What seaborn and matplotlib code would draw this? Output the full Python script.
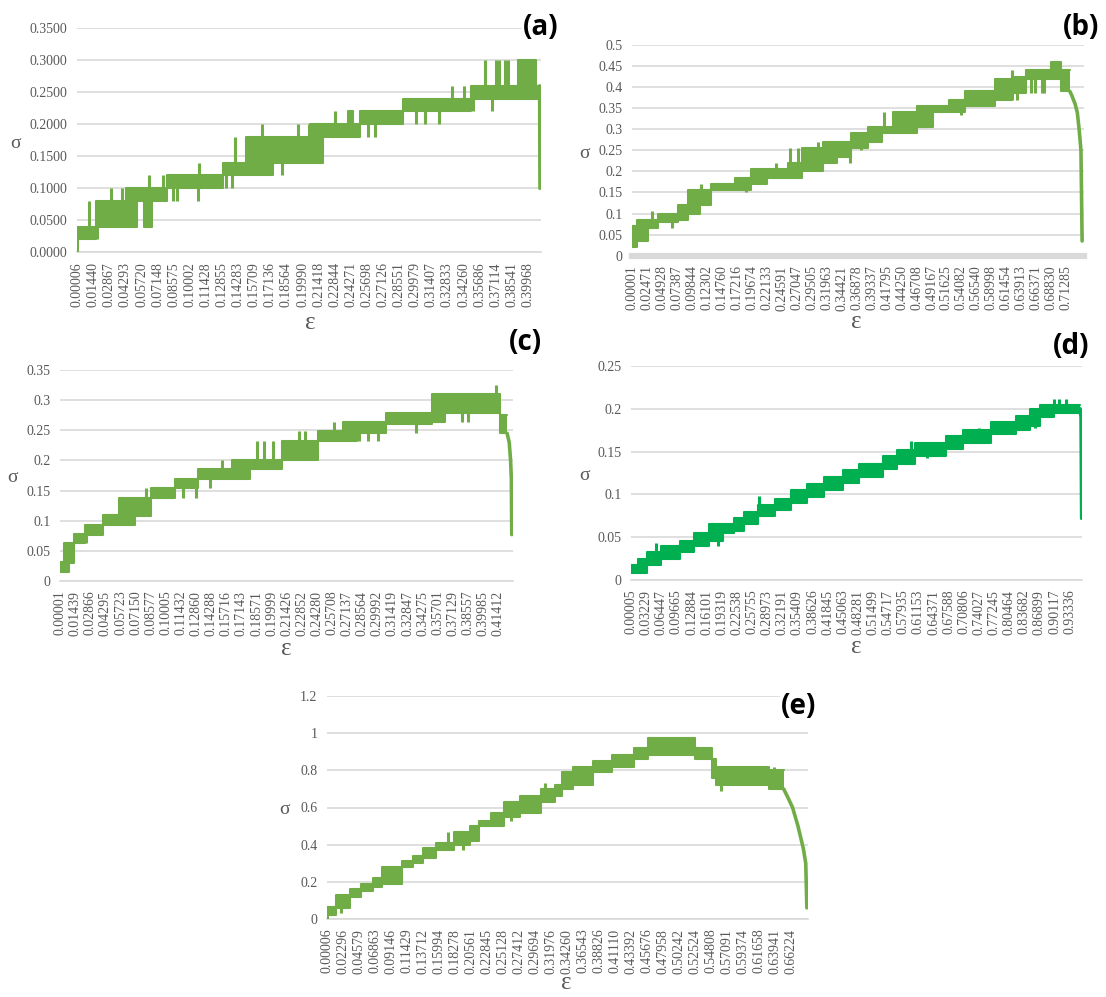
import matplotlib
matplotlib.use("Agg")
import matplotlib.pyplot as plt
import seaborn as sns

# ---------------- data ----------------
# Panel (a)
a_xtick_labels = ["0.00006", "0.01440", "0.02867", "0.04293", "0.05720", "0.07148", "0.08575",
                  "0.10002", "0.11428", "0.12855", "0.14283", "0.15709", "0.17136", "0.18564",
                  "0.19990", "0.21418", "0.22844", "0.24271", "0.25698", "0.27126", "0.28551",
                  "0.29979", "0.31407", "0.32833", "0.34260", "0.35686", "0.37114", "0.38541",
                  "0.39968"]
a_yticks = [0.0, 0.05, 0.10, 0.15, 0.20, 0.25, 0.30, 0.35]
a_ytick_labels = ["0.0000", "0.0500", "0.1000", "0.1500", "0.2000", "0.2500", "0.3000", "0.3500"]
a_eps = [0.0000, 0.0086, 0.0165, 0.0435, 0.0530, 0.0593, 0.0666, 0.0800, 0.1291, 0.1497, 0.1735,
         0.2067, 0.2178, 0.2400, 0.2448, 0.2511, 0.2892, 0.3304, 0.3494, 0.3906, 0.4065, 0.4103]
a_lo = [0.02, 0.02, 0.04, 0.04, 0.08, 0.04, 0.08, 0.10, 0.12, 0.12, 0.14, 0.14, 0.18, 0.18, 0.18,
        0.20, 0.22, 0.22, 0.24, 0.24, 0.24]
a_hi = [0.04, 0.04, 0.08, 0.10, 0.10, 0.10, 0.10, 0.12, 0.14, 0.18, 0.18, 0.20, 0.20, 0.22, 0.20,
        0.22, 0.24, 0.24, 0.26, 0.30, 0.26]
a_sp_eps = [0.0002, 0.0102, 0.0181, 0.0302, 0.0403, 0.0635, 0.0762, 0.0850, 0.0890, 0.1075, 0.1085,
            0.1322, 0.1370, 0.1402, 0.1640, 0.1820, 0.1956, 0.2052, 0.2289, 0.2575, 0.2638, 0.3003,
            0.3082, 0.3209, 0.3320, 0.3431, 0.3510, 0.3615, 0.3678, 0.3716, 0.3740, 0.3795, 0.3820,
            0.4100]
a_sp_lo = [0.00, 0.02, 0.02, 0.04, 0.04, 0.04, 0.08, 0.08, 0.08, 0.08, 0.10, 0.10, 0.10, 0.12, 0.12,
           0.12, 0.14, 0.14, 0.18, 0.18, 0.18, 0.20, 0.20, 0.20, 0.22, 0.22, 0.22, 0.24, 0.22, 0.24,
           0.24, 0.24, 0.24, 0.10]
a_sp_hi = [0.04, 0.08, 0.04, 0.10, 0.10, 0.12, 0.12, 0.12, 0.12, 0.12, 0.14, 0.14, 0.14, 0.18, 0.20,
           0.18, 0.20, 0.20, 0.22, 0.22, 0.22, 0.24, 0.24, 0.24, 0.26, 0.26, 0.26, 0.30, 0.26, 0.30,
           0.30, 0.30, 0.30, 0.26]
a_tail_eps = [0.4100, 0.4103]
a_tail_sig = [0.26, 0.10]

# Panel (b)
b_xtick_labels = ["0.00001", "0.02471", "0.04928", "0.07387", "0.09844", "0.12302", "0.14760",
                  "0.17216", "0.19674", "0.22133", "0.24591", "0.27047", "0.29505", "0.31963",
                  "0.34421", "0.36878", "0.39337", "0.41795", "0.44250", "0.46708", "0.49167",
                  "0.51625", "0.54082", "0.56540", "0.58998", "0.61454", "0.63913", "0.66371",
                  "0.68830", "0.71285"]
b_yticks = [0, 0.05, 0.1, 0.15, 0.2, 0.25, 0.3, 0.35, 0.4, 0.45, 0.5]
b_ytick_labels = ["0", "0.05", "0.1", "0.15", "0.2", "0.25", "0.3", "0.35", "0.4", "0.45", "0.5"]
b_eps = [0.0000, 0.0086, 0.0270, 0.0431, 0.0748, 0.0920, 0.1110, 0.1294, 0.1696, 0.1955, 0.2214,
         0.2559, 0.2789, 0.3134, 0.3364, 0.3594, 0.3881, 0.4111, 0.4284, 0.4686, 0.4945, 0.5204,
         0.5463, 0.5951, 0.6239, 0.6469, 0.6871, 0.7044, 0.7188]
b_lo = [0.02, 0.035, 0.065, 0.08, 0.085, 0.10, 0.12, 0.155, 0.155, 0.17, 0.185, 0.185, 0.20, 0.22,
        0.235, 0.255, 0.27, 0.29, 0.29, 0.305, 0.34, 0.34, 0.355, 0.37, 0.385, 0.42, 0.42, 0.39]
b_hi = [0.07, 0.085, 0.085, 0.10, 0.12, 0.155, 0.155, 0.17, 0.185, 0.205, 0.205, 0.22, 0.255, 0.27,
        0.27, 0.29, 0.305, 0.305, 0.34, 0.355, 0.355, 0.37, 0.39, 0.42, 0.425, 0.44, 0.46, 0.44]
b_sp_eps = [0.0328, 0.0661, 0.1133, 0.1869, 0.2358, 0.2599, 0.2720, 0.3048, 0.3577, 0.3766, 0.4140,
            0.5405, 0.5463, 0.6239, 0.6325, 0.6555, 0.6613, 0.6728, 0.6756]
b_sp_lo = [0.065, 0.065, 0.12, 0.15, 0.185, 0.185, 0.185, 0.20, 0.22, 0.25, 0.29, 0.335, 0.355,
           0.37, 0.37, 0.385, 0.385, 0.385, 0.385]
b_sp_hi = [0.105, 0.10, 0.17, 0.185, 0.22, 0.255, 0.255, 0.27, 0.27, 0.29, 0.34, 0.37, 0.39, 0.44,
           0.425, 0.44, 0.44, 0.44, 0.44]
b_tail_eps = [0.7188, 0.7220, 0.7274, 0.7310, 0.7340, 0.7370, 0.7389]
b_tail_sig = [0.39, 0.38, 0.36, 0.34, 0.30, 0.25, 0.035]

# Panel (c)
c_xtick_labels = ["0.00001", "0.01439", "0.02866", "0.04295", "0.05723", "0.07150", "0.08577",
                  "0.10005", "0.11432", "0.12860", "0.14288", "0.15716", "0.17143", "0.18571",
                  "0.19999", "0.21426", "0.22852", "0.24280", "0.25708", "0.27137", "0.28564",
                  "0.29992", "0.31419", "0.32847", "0.34275", "0.35701", "0.37129", "0.38557",
                  "0.39985", "0.41412"]
c_yticks = [0, 0.05, 0.1, 0.15, 0.2, 0.25, 0.3, 0.35]
c_ytick_labels = ["0", "0.05", "0.1", "0.15", "0.2", "0.25", "0.3", "0.35"]
c_eps = [0.0000, 0.0034, 0.0085, 0.0135, 0.0237, 0.0406, 0.0558, 0.0710, 0.0862, 0.1082, 0.1301,
         0.1622, 0.1791, 0.2096, 0.2434, 0.2670, 0.2806, 0.3076, 0.3515, 0.3634, 0.4157, 0.4225]
c_lo = [0.015, 0.015, 0.03, 0.063, 0.077, 0.093, 0.093, 0.108, 0.138, 0.155, 0.17, 0.17, 0.185,
        0.20, 0.232, 0.232, 0.245, 0.26, 0.263, 0.278, 0.245]
c_hi = [0.032, 0.063, 0.063, 0.078, 0.093, 0.11, 0.138, 0.138, 0.155, 0.17, 0.185, 0.20, 0.20,
        0.232, 0.248, 0.263, 0.263, 0.278, 0.31, 0.31, 0.275]
c_sp_eps = [0.0250, 0.0811, 0.1166, 0.1284, 0.1420, 0.1528, 0.1866, 0.1927, 0.2011, 0.2258, 0.2316,
            0.2593, 0.2823, 0.2907, 0.3009, 0.3363, 0.3803, 0.3853, 0.4124]
c_sp_lo = [0.063, 0.108, 0.138, 0.138, 0.155, 0.17, 0.185, 0.185, 0.185, 0.20, 0.20, 0.232, 0.232,
           0.232, 0.232, 0.245, 0.263, 0.263, 0.278]
c_sp_hi = [0.093, 0.155, 0.17, 0.17, 0.185, 0.20, 0.232, 0.232, 0.232, 0.248, 0.248, 0.263, 0.263,
           0.263, 0.263, 0.278, 0.31, 0.31, 0.325]
c_tail_eps = [0.4225, 0.4245, 0.4258, 0.4265, 0.4269]
c_tail_sig = [0.245, 0.23, 0.20, 0.17, 0.077]

# Panel (d)
d_xtick_labels = ["0.00005", "0.03229", "0.06447", "0.09665", "0.12884", "0.16101", "0.19319",
                  "0.22538", "0.25755", "0.28973", "0.32191", "0.35409", "0.38626", "0.41845",
                  "0.45063", "0.48281", "0.51499", "0.54717", "0.57935", "0.61153", "0.64371",
                  "0.67588", "0.70806", "0.74027", "0.77245", "0.80464", "0.83682", "0.86899",
                  "0.90117", "0.93336"]
d_yticks = [0, 0.05, 0.1, 0.15, 0.2, 0.25]
d_ytick_labels = ["0", "0.05", "0.1", "0.15", "0.2", "0.25"]
d_eps = [0.0000, 0.0148, 0.0333, 0.0630, 0.1037, 0.1333, 0.1666, 0.1963, 0.2185, 0.2407, 0.2703,
         0.3073, 0.3407, 0.3740, 0.4110, 0.4518, 0.4851, 0.5369, 0.5666, 0.6036, 0.6702, 0.7073,
         0.7665, 0.8184, 0.8480, 0.8702, 0.8998, 0.9554]
d_lo = [0.008, 0.008, 0.017, 0.025, 0.033, 0.04, 0.045, 0.055, 0.057, 0.065, 0.075, 0.082, 0.09,
        0.097, 0.105, 0.113, 0.12, 0.13, 0.135, 0.145, 0.153, 0.16, 0.17, 0.175, 0.18, 0.19, 0.195]
d_hi = [0.018, 0.025, 0.033, 0.04, 0.045, 0.055, 0.065, 0.065, 0.072, 0.08, 0.088, 0.095, 0.105,
        0.112, 0.12, 0.128, 0.135, 0.145, 0.152, 0.16, 0.168, 0.175, 0.185, 0.192, 0.20, 0.205,
        0.205]
d_sp_eps = [0.0540, 0.1850, 0.2725, 0.4830, 0.5962, 0.6300, 0.7400, 0.8600, 0.8998, 0.9100, 0.9258]
d_sp_lo = [0.025, 0.04, 0.075, 0.113, 0.14, 0.143, 0.16, 0.177, 0.195, 0.195, 0.195]
d_sp_hi = [0.043, 0.065, 0.098, 0.128, 0.162, 0.16, 0.178, 0.20, 0.212, 0.212, 0.212]
d_tail_eps = [0.9554, 0.9575, 0.9588]
d_tail_sig = [0.20, 0.19, 0.072]

# Panel (e)
e_xtick_labels = ["0.00006", "0.02296", "0.04579", "0.06863", "0.09146", "0.11429", "0.13712",
                  "0.15994", "0.18278", "0.20561", "0.22845", "0.25128", "0.27412", "0.29694",
                  "0.31976", "0.34260", "0.36543", "0.38826", "0.41110", "0.43392", "0.45676",
                  "0.47958", "0.50242", "0.52524", "0.54808", "0.57091", "0.59374", "0.61658",
                  "0.63941", "0.66224"]
e_yticks = [0, 0.2, 0.4, 0.6, 0.8, 1.0, 1.2]
e_ytick_labels = ["0", "0.2", "0.4", "0.6", "0.8", "1", "1.2"]
e_eps = [0.0000, 0.0127, 0.0331, 0.0484, 0.0662, 0.0789, 0.1069, 0.1222, 0.1374, 0.1552, 0.1807,
         0.2036, 0.2163, 0.2341, 0.2520, 0.2749, 0.3054, 0.3258, 0.3359, 0.3512, 0.3792, 0.4072,
         0.4377, 0.4581, 0.5243, 0.5497, 0.5548, 0.6312, 0.6515]
e_lo = [0.02, 0.06, 0.12, 0.15, 0.17, 0.19, 0.28, 0.30, 0.33, 0.37, 0.40, 0.42, 0.50, 0.50, 0.55,
        0.57, 0.63, 0.66, 0.70, 0.72, 0.79, 0.82, 0.86, 0.88, 0.86, 0.76, 0.72, 0.70]
e_hi = [0.065, 0.13, 0.16, 0.19, 0.22, 0.28, 0.31, 0.34, 0.38, 0.41, 0.47, 0.50, 0.53, 0.57, 0.63,
        0.66, 0.70, 0.72, 0.79, 0.82, 0.85, 0.88, 0.92, 0.975, 0.92, 0.86, 0.82, 0.80]
e_sp_eps = [0.0002, 0.0204, 0.1731, 0.1934, 0.2621, 0.3105, 0.5624, 0.6373]
e_sp_lo = [0.0, 0.03, 0.37, 0.37, 0.53, 0.63, 0.69, 0.70]
e_sp_hi = [0.065, 0.13, 0.47, 0.47, 0.63, 0.73, 0.82, 0.82]
e_tail_eps = [0.6515, 0.6580, 0.6642, 0.6719, 0.6795, 0.6830, 0.6846]
e_tail_sig = [0.70, 0.65, 0.60, 0.50, 0.38, 0.30, 0.06]

GREEN = "#70AD47"
GREEN_D = "#00B050"
GRID = "#D9D9D9"
TXT = "#595959"

# ---------------- figure ----------------
sns.set_style("white")
plt.rcParams["font.family"] = ["Liberation Serif", "DejaVu Serif"]

W, H = 1106, 997
fig = plt.figure(figsize=(W / 100, H / 100), dpi=100)


def px_axes(x0, x1, ytop, ybot):
    return fig.add_axes([x0 / W, 1 - ybot / H, (x1 - x0) / W, (ybot - ytop) / H])


def draw(ax, eps, lo, hi, sp_e, sp_lo, sp_hi, t_e, t_s, color, xmax, yticks, ylabels,
         xlabels, base_lw=1.2):
    lo_s = lo + [lo[-1]]
    hi_s = hi + [hi[-1]]
    ax.fill_between(eps, lo_s, hi_s, step="post", color=color, linewidth=0, zorder=3)
    sns.lineplot(x=eps, y=hi_s, ax=ax, color=color, lw=1.5, drawstyle="steps-post",
                 estimator=None, sort=False, zorder=3)
    sns.lineplot(x=eps, y=lo_s, ax=ax, color=color, lw=1.5, drawstyle="steps-post",
                 estimator=None, sort=False, zorder=3)
    ax.vlines(sp_e, sp_lo, sp_hi, color=color, lw=2.2, zorder=3)
    sns.lineplot(x=t_e, y=t_s, ax=ax, color=color, lw=2.6, estimator=None, sort=False, zorder=3)
    ax.set_xlim(0, xmax)
    ax.set_ylim(0, yticks[-1])
    ax.set_yticks(yticks)
    ax.set_yticklabels(ylabels)
    ax.set_xticks([float(s) for s in xlabels])
    ax.set_xticklabels(xlabels, rotation=90)
    ax.tick_params(length=0, colors=TXT, labelsize=10, pad=7)
    ax.grid(axis="y", color=GRID, lw=1.2, zorder=0)
    ax.grid(axis="x", visible=False)
    for s in ["top", "left", "right"]:
        ax.spines[s].set_visible(False)
    ax.spines["bottom"].set_color(GRID)
    ax.spines["bottom"].set_linewidth(base_lw)
    ax.set_xlabel("")
    ax.set_ylabel("")
    ax.set_axisbelow(True)


ax_a = px_axes(77, 541, 28.3, 252.3)
draw(ax_a, a_eps, a_lo, a_hi, a_sp_eps, a_sp_lo, a_sp_hi, a_tail_eps, a_tail_sig, GREEN,
     0.4112, a_yticks, a_ytick_labels, a_xtick_labels)

ax_b = px_axes(632, 1084, 45, 255.7)
draw(ax_b, b_eps, b_lo, b_hi, b_sp_eps, b_sp_lo, b_sp_hi, b_tail_eps, b_tail_sig, GREEN,
     0.742, b_yticks, b_ytick_labels, b_xtick_labels, base_lw=4.5)

ax_c = px_axes(60, 512.5, 370, 581)
draw(ax_c, c_eps, c_lo, c_hi, c_sp_eps, c_sp_lo, c_sp_hi, c_tail_eps, c_tail_sig, GREEN,
     0.4276, c_yticks, c_ytick_labels, c_xtick_labels)

ax_d = px_axes(631, 1082, 366, 580)
draw(ax_d, d_eps, d_lo, d_hi, d_sp_eps, d_sp_lo, d_sp_hi, d_tail_eps, d_tail_sig, GREEN_D,
     0.9595, d_yticks, d_ytick_labels, d_xtick_labels)

ax_e = px_axes(327, 807.5, 696, 919)
draw(ax_e, e_eps, e_lo, e_hi, e_sp_eps, e_sp_lo, e_sp_hi, e_tail_eps, e_tail_sig, GREEN,
     0.6855, e_yticks, e_ytick_labels, e_xtick_labels)


def ftext(x, y, s, **kw):
    fig.text(x / W, 1 - y / H, s, ha="center", va="center", **kw)


for (sx, sy) in [(15.6, 143), (584, 153), (12.5, 478), (584, 475), (284, 809)]:
    ftext(sx, sy, "σ", fontsize=14, color=TXT)
for (ex, ey) in [(310, 323), (856, 322), (286, 649), (856, 647), (566, 983)]:
    ftext(ex, ey, "ε", fontsize=18, color=TXT)

for (lx, ly, lab) in [(541, 27.5, "(a)"), (1081, 27.5, "(b)"), (525.5, 342.5, "(c)"),
                      (1071, 346, "(d)"), (799, 706.5, "(e)")]:
    ftext(lx, ly, lab, fontsize=20, fontweight="bold", color="black",
          family=["Open Sans", "DejaVu Sans"],
          bbox=dict(facecolor="white", edgecolor="none", pad=1))

fig.savefig("out.png", dpi=100, facecolor="white")
